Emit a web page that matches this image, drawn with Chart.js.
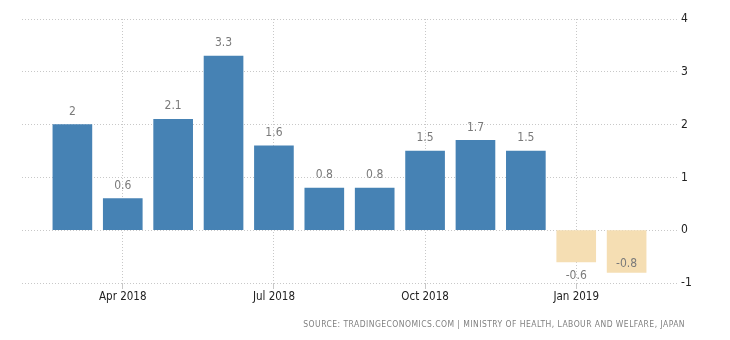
<!DOCTYPE html>
<html>
<head>
<meta charset="utf-8">
<script src="https://cdn.jsdelivr.net/npm/chart.js@4.4.0/dist/chart.umd.min.js"></script>
<style>
  body { margin: 0; background: #fff; }
  #wrap { position: relative; width: 730px; height: 340px; }
  #source {
    position: absolute; right: 45px; top: 319px;
    font-family: "DejaVu Sans Condensed", sans-serif; font-size: 8.5px;
    color: #808080; letter-spacing: 0.45px; white-space: nowrap;
  }
</style>
</head>
<body>
<div id="wrap">
  <canvas id="chart" width="730" height="340"></canvas>
  <div id="source">SOURCE: TRADINGECONOMICS.COM | MINISTRY OF HEALTH, LABOUR AND WELFARE, JAPAN</div>
</div>
<script>
// monthly values, Mar 2018 .. Feb 2019
var months = ['Mar 2018', 'Apr 2018', 'May 2018', 'Jun 2018', 'Jul 2018', 'Aug 2018',
              'Sep 2018', 'Oct 2018', 'Nov 2018', 'Dec 2018', 'Jan 2019', 'Feb 2019'];
var values = [2, 0.6, 2.1, 3.3, 1.6, 0.8, 0.8, 1.5, 1.7, 1.5, -0.6, -0.8];
var labelMonths = [1, 4, 7, 10];   // indexes that get an x tick
var yTicks = [-1, 0, 1, 2, 3, 4];

var points = [];
var colors = [];
for (var i = 0; i < values.length; i++) {
  points.push({ x: i, y: values[i] });
  colors.push(values[i] < 0 ? '#F5DEB3' : '#4682B4');
}

// value text above positive bars, below negative ones (moved inside if no room)
var valueLabels = {
  id: 'valueLabels',
  afterDatasetsDraw: function (chart) {
    var ctx = chart.ctx;
    var area = chart.chartArea;
    var meta = chart.getDatasetMeta(0);
    ctx.save();
    ctx.font = '12px "DejaVu Sans Condensed", sans-serif';
    ctx.fillStyle = '#7a7a7a';
    ctx.textAlign = 'center';
    ctx.textBaseline = 'middle';
    meta.data.forEach(function (bar, i) {
      var v = values[i];
      var y;
      if (v >= 0) {
        y = bar.y - 13;
      } else if (bar.y + 14 > area.bottom - 7) {
        y = bar.y - 9;
      } else {
        y = bar.y + 14;
      }
      ctx.fillText(String(v), bar.x, y);
    });
    ctx.restore();
  }
};

new Chart(document.getElementById('chart'), {
  type: 'bar',
  data: {
    datasets: [{
      data: points,
      backgroundColor: colors,
      barThickness: 39,
      borderWidth: 0
    }]
  },
  options: {
    responsive: false,
    animation: false,
    layout: { padding: { top: 19, left: 22, right: 0, bottom: 0 } },
    plugins: { legend: { display: false }, tooltip: { enabled: false } },
    scales: {
      x: {
        type: 'linear',
        min: -1,
        max: 12,
        offset: false,
        afterBuildTicks: function (scale) {
          scale.ticks = labelMonths.map(function (i) { return { value: i }; });
        },
        afterFit: function (scale) { scale.height = 57; },
        border: { display: false, dash: [1, 2] },
        grid: {
          offset: false,
          color: '#c8c8c8',
          tickLength: 6,
          tickColor: '#c8c8c8'
        },
        ticks: {
          autoSkip: false,
          maxRotation: 0,
          padding: 1,
          color: '#222',
          font: { family: '"DejaVu Sans Condensed", sans-serif', size: 11.5 },
          callback: function (v) { return months[v]; }
        }
      },
      y: {
        position: 'right',
        min: -1,
        max: 4,
        afterBuildTicks: function (scale) {
          scale.ticks = yTicks.map(function (v) { return { value: v }; });
        },
        afterFit: function (scale) { scale.width = 53; },
        border: { display: false, dash: [1, 2] },
        grid: {
          color: '#c8c8c8',
          drawTicks: false
        },
        ticks: {
          crossAlign: 'near',
          padding: 4,
          color: '#222',
          font: { family: '"DejaVu Sans Condensed", sans-serif', size: 12 }
        }
      }
    }
  },
  plugins: [valueLabels]
});
</script>
</body>
</html>
